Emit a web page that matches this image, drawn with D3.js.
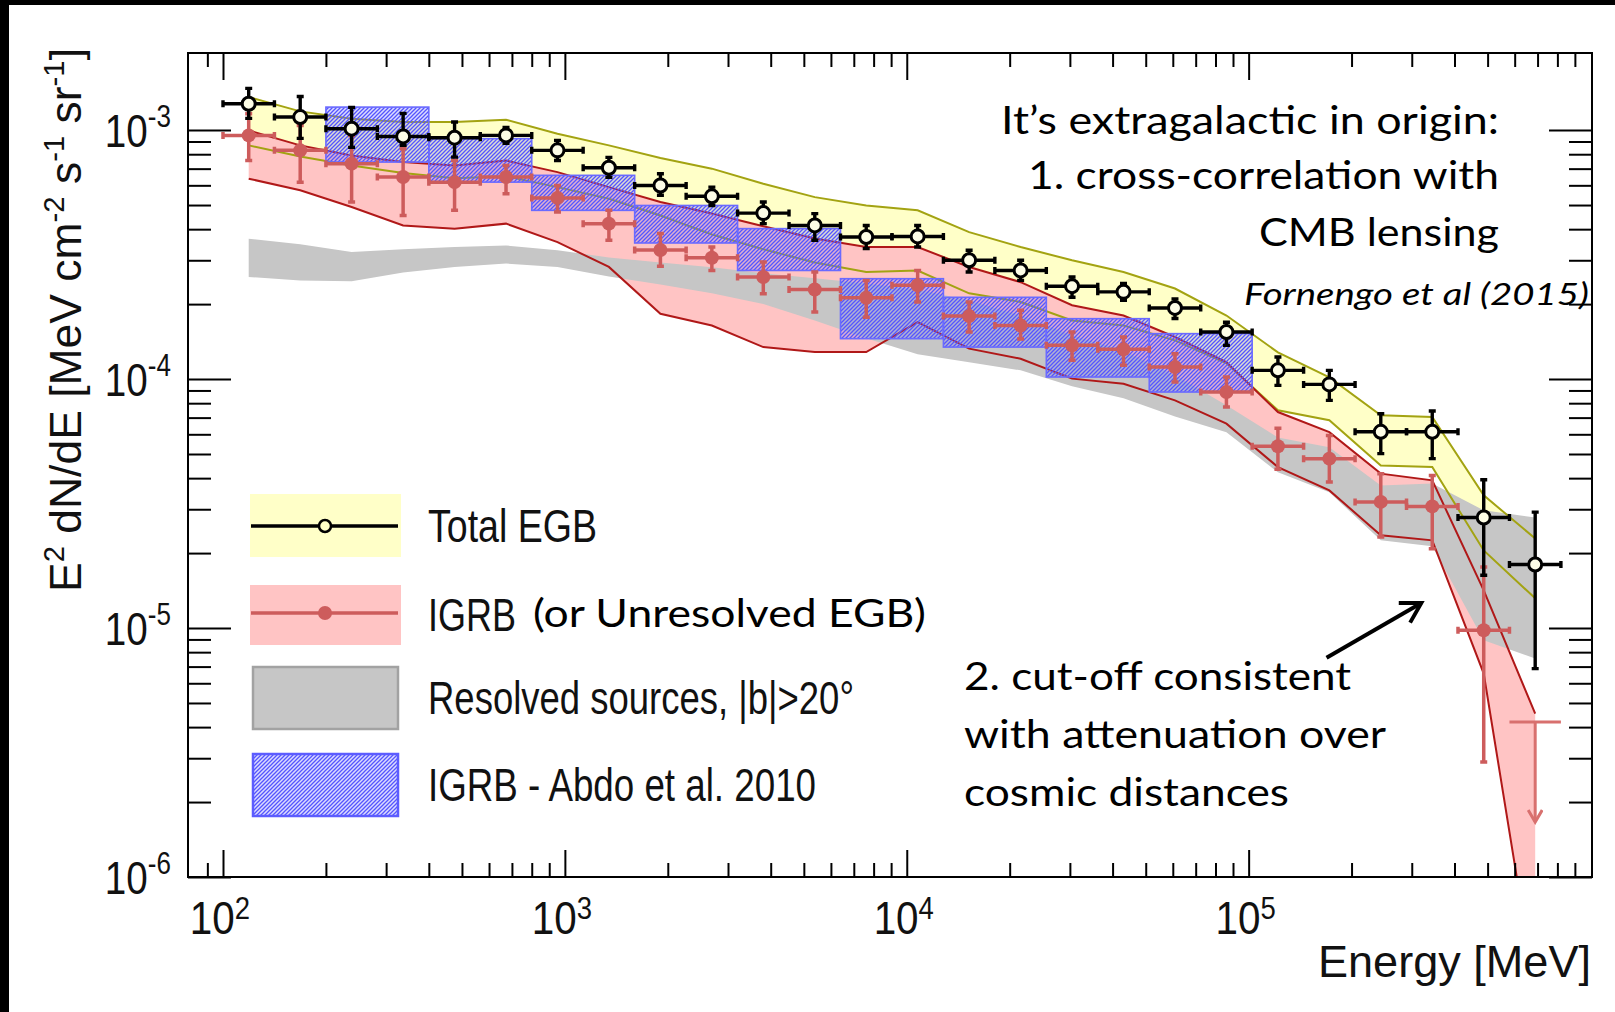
<!DOCTYPE html>
<html>
<head>
<meta charset="utf-8">
<script src="https://cdn.jsdelivr.net/npm/d3@7"></script>
<style>
  body { margin: 0; background: #000; }
  svg { display: block; }
</style>
</head>
<body>
<svg id="chart"></svg>
<script>

// Fermi-LAT energy bins (MeV)
var binCenters = [118.9, 168.2, 237.8, 336.4, 475.7, 672.7, 951.4, 1345, 1903, 2691, 3805, 5382, 7611, 10760, 15220, 21530, 30440, 43050, 60890, 86110, 121800, 172200, 243500, 344400, 487100, 688900];
var binLow = [100, 141.4, 200, 282.8, 400, 565.7, 800, 1131, 1600, 2263, 3200, 4525, 6400, 9051, 12800, 18100, 25600, 36200, 51200, 72410, 102400, 144800, 204800, 289600, 409600, 579300];
var binHigh = [141.4, 200, 282.8, 400, 565.7, 800, 1131, 1600, 2263, 3200, 4525, 6400, 9051, 12800, 18100, 25600, 36200, 51200, 72410, 102400, 144800, 204800, 289600, 409600, 579300, 819200];

// Total EGB points
var egbFlux = [1.276e-3, 1.128e-3, 1.013e-3, 9.43e-4, 9.32e-4, 9.52e-4, 8.29e-4, 7.06e-4, 5.99e-4, 5.42e-4, 4.64e-4, 4.14e-4, 3.72e-4, 3.74e-4, 3.00e-4, 2.73e-4, 2.36e-4, 2.24e-4, 1.93e-4, 1.545e-4, 1.084e-4, 9.52e-5, 6.14e-5, 6.14e-5, 2.78e-5, 1.80e-5];
var egbErrHigh = [1.471e-3, 1.365e-3, 1.234e-3, 1.167e-3, 1.077e-3, 1.025e-3, 9.09e-4, 7.77e-4, 6.68e-4, 5.90e-4, 5.14e-4, 4.62e-4, 4.14e-4, 4.14e-4, 3.29e-4, 3.00e-4, 2.57e-4, 2.42e-4, 2.10e-4, 1.69e-4, 1.226e-4, 1.084e-4, 7.26e-5, 7.44e-5, 3.94e-5, 2.92e-5];
var egbErrLow = [1.114e-3, 9.26e-4, 8.52e-4, 8.68e-4, 7.79e-4, 8.84e-4, 7.55e-4, 6.46e-4, 5.47e-4, 4.98e-4, 4.21e-4, 3.61e-4, 3.34e-4, 3.39e-4, 2.69e-4, 2.49e-4, 2.13e-4, 2.07e-4, 1.75e-4, 1.366e-4, 9.43e-5, 8.21e-5, 5.02e-5, 4.79e-5, 1.63e-5, 6.87e-6];
var egbBandHigh = [1.357e-3, 1.189e-3, 1.111e-3, 1.077e-3, 1.077e-3, 1.101e-3, 9.67e-4, 8.68e-4, 7.73e-4, 7.00e-4, 6.09e-4, 5.38e-4, 4.98e-4, 4.76e-4, 3.89e-4, 3.39e-4, 3.00e-4, 2.69e-4, 2.31e-4, 1.80e-4, 1.28e-4, 1.016e-4, 7.15e-5, 7.04e-5, 3.41e-5, 2.29e-5];
var egbBandLow = [8.68e-4, 7.84e-4, 7.21e-4, 6.72e-4, 6.41e-4, 6.52e-4, 5.90e-4, 5.30e-4, 4.54e-4, 3.81e-4, 3.32e-4, 2.94e-4, 2.69e-4, 2.73e-4, 2.21e-4, 2.04e-4, 1.72e-4, 1.64e-4, 1.43e-4, 1.156e-4, 7.49e-5, 6.83e-5, 4.50e-5, 4.43e-5, 2.05e-5, 1.316e-5];

// IGRB points (first 25 bins) + upper limit in the last bin
var igrbFlux = [9.52e-4, 8.29e-4, 7.33e-4, 6.48e-4, 6.18e-4, 6.48e-4, 5.34e-4, 4.21e-4, 3.30e-4, 3.07e-4, 2.57e-4, 2.29e-4, 2.12e-4, 2.38e-4, 1.79e-4, 1.64e-4, 1.366e-4, 1.316e-4, 1.117e-4, 8.87e-5, 5.37e-5, 4.79e-5, 3.21e-5, 3.08e-5, 9.79e-6];
var igrbErrHigh = [1.164e-3, 1.044e-3, 9.52e-4, 8.42e-4, 7.55e-4, 7.21e-4, 5.99e-4, 4.76e-4, 3.84e-4, 3.39e-4, 2.95e-4, 2.69e-4, 2.49e-4, 2.73e-4, 2.04e-4, 1.89e-4, 1.545e-4, 1.475e-4, 1.265e-4, 1.019e-4, 6.34e-5, 5.94e-5, 4.17e-5, 4.10e-5, 1.758e-5];
var igrbErrLow = [7.55e-4, 6.18e-4, 5.14e-4, 4.54e-4, 4.76e-4, 5.55e-4, 4.69e-4, 3.61e-4, 2.84e-4, 2.73e-4, 2.20e-4, 1.86e-4, 1.77e-4, 2.04e-4, 1.545e-4, 1.45e-4, 1.189e-4, 1.135e-4, 9.73e-5, 7.72e-5, 4.34e-5, 3.86e-5, 2.32e-5, 2.08e-5, 2.90e-6];
var igrbUpperLimit = 4.19e-6;
var igrbBandHigh = [9.97e-4, 8.68e-4, 7.91e-4, 7.44e-4, 7.21e-4, 7.55e-4, 6.78e-4, 5.90e-4, 5.14e-4, 4.62e-4, 4.11e-4, 3.67e-4, 3.39e-4, 3.39e-4, 2.82e-4, 2.45e-4, 1.98e-4, 1.80e-4, 1.475e-4, 1.17e-4, 7.37e-5, 6.12e-5, 4.17e-5, 3.92e-5, 1.417e-5, 4.53e-6];
var igrbBandLow = [6.38e-4, 5.73e-4, 4.91e-4, 4.14e-4, 4.02e-4, 4.21e-4, 3.55e-4, 2.82e-4, 1.83e-4, 1.64e-4, 1.344e-4, 1.284e-4, 1.284e-4, 1.694e-4, 1.325e-4, 1.207e-4, 1.004e-4, 9.58e-5, 8.21e-5, 6.62e-5, 4.43e-5, 3.57e-5, 2.36e-5, 2.25e-5, 6.56e-6, 3.5e-7];

// Resolved sources |b|>20 band
var resolvedHigh = [3.66e-4, 3.48e-4, 3.24e-4, 3.32e-4, 3.39e-4, 3.44e-4, 3.29e-4, 3.08e-4, 2.94e-4, 2.81e-4, 2.66e-4, 2.54e-4, 2.42e-4, 2.29e-4, 2.07e-4, 1.80e-4, 1.50e-4, 1.30e-4, 1.035e-4, 7.84e-5, 5.83e-5, 5.32e-5, 3.74e-5, 3.81e-5, 2.97e-5, 2.78e-5];
var resolvedLow = [2.57e-4, 2.49e-4, 2.47e-4, 2.68e-4, 2.82e-4, 2.91e-4, 2.82e-4, 2.58e-4, 2.40e-4, 2.21e-4, 2.00e-4, 1.72e-4, 1.46e-4, 1.257e-4, 1.167e-4, 1.084e-4, 9.35e-5, 8.37e-5, 7.08e-5, 6.11e-5, 4.22e-5, 3.51e-5, 2.25e-5, 2.13e-5, 8.93e-6, 7.55e-6];

// IGRB - Abdo et al. 2010 boxes
var abdoLow = [200, 400, 800, 1600, 3200, 6400, 12800, 25600, 51200];
var abdoHigh = [400, 800, 1600, 3200, 6400, 12800, 25600, 51200, 102400];
var abdoTop = [1.237e-3, 9.24e-4, 6.58e-4, 4.98e-4, 4.02e-4, 2.53e-4, 2.13e-4, 1.748e-4, 1.522e-4];
var abdoBottom = [7.44e-4, 6.18e-4, 4.76e-4, 3.52e-4, 2.73e-4, 1.453e-4, 1.344e-4, 1.019e-4, 8.87e-5];

var xMajor = [1e2, 1e3, 1e4, 1e5];
var yMajor = [1e-6, 1e-5, 1e-4, 1e-3];

// cut-off arrow, [energy, flux] of tail and head
var arrowTail = [1.69e5, 7.6e-6];
var arrowHead = [3.2e5, 1.26e-5];

var W = 1615, H = 1012;
var pLeft = 188, pRight = 1592, pTop = 53, pBottom = 877;

var svg = d3.select("#chart").attr("width", W).attr("height", H);

// black border of the slide
svg.append("rect").attr("width", W).attr("height", H).attr("fill", "#000");
svg.append("rect").attr("x", 9).attr("y", 5).attr("width", W - 9).attr("height", H - 5).attr("fill", "#fff");

var x = d3.scaleLog().domain([79, 1.01e6]).range([pLeft, pRight]);
var y = d3.scaleLog().domain([1e-6, 2.04e-3]).range([pBottom, pTop]);

var defs = svg.append("defs");
defs.append("clipPath").attr("id", "plotclip")
    .append("rect").attr("x", pLeft).attr("y", pTop)
    .attr("width", pRight - pLeft).attr("height", pBottom - pTop);

var hatch = defs.append("pattern").attr("id", "hatch")
    .attr("patternUnits", "userSpaceOnUse").attr("width", 4).attr("height", 4);
hatch.append("rect").attr("width", 4).attr("height", 4).attr("fill", "rgba(110,110,255,0.24)");
hatch.append("path").attr("d", "M-1,1 l2,-2 M0,4 l4,-4 M3,5 l2,-2")
    .attr("stroke", "#5555ff").attr("stroke-width", 1.3);

defs.append("marker").attr("id", "headBlack")
    .attr("viewBox", "0 0 16 16").attr("markerUnits", "userSpaceOnUse")
    .attr("markerWidth", 26).attr("markerHeight", 26)
    .attr("refX", 13).attr("refY", 8).attr("orient", "auto")
    .append("path").attr("d", "M1,1 L13,8 L1,15")
    .attr("fill", "none").attr("stroke", "#000").attr("stroke-width", 2.4);

defs.append("marker").attr("id", "headRed")
    .attr("viewBox", "0 0 16 16").attr("markerUnits", "userSpaceOnUse")
    .attr("markerWidth", 16).attr("markerHeight", 16)
    .attr("refX", 13).attr("refY", 8).attr("orient", "auto")
    .append("path").attr("d", "M1,1 L13,8 L1,15")
    .attr("fill", "none").attr("stroke", "#d8706e").attr("stroke-width", 3);

var plot = svg.append("g").attr("clip-path", "url(#plotclip)");
var idx = d3.range(binCenters.length);

function band(lo, hi) {
    return d3.area()
        .x(function(i) { return x(binCenters[i]); })
        .y0(function(i) { return y(lo[i]); })
        .y1(function(i) { return y(hi[i]); })(idx);
}
function edge(vals) {
    return d3.line()
        .x(function(i) { return x(binCenters[i]); })
        .y(function(i) { return y(vals[i]); })(idx);
}

plot.append("path").attr("d", band(egbBandLow, egbBandHigh)).attr("fill", "#ffffc8");
plot.append("path").attr("d", band(igrbBandLow, igrbBandHigh)).attr("fill", "#ffc4c4");
plot.append("path").attr("d", band(resolvedLow, resolvedHigh)).attr("fill", "#c6c6c6");

[egbBandHigh, egbBandLow].forEach(function(v) {
    plot.append("path").attr("d", edge(v)).attr("fill", "none")
        .attr("stroke", "#a3a312").attr("stroke-width", 2);
});
[igrbBandHigh, igrbBandLow].forEach(function(v) {
    plot.append("path").attr("d", edge(v)).attr("fill", "none")
        .attr("stroke", "#b01818").attr("stroke-width", 2);
});

// Abdo et al. boxes
plot.selectAll("rect.abdo")
    .data(d3.range(abdoLow.length))
    .enter()
    .append("rect")
    .attr("class", "abdo")
    .attr("x", function(i) { return x(abdoLow[i]); })
    .attr("width", function(i) { return x(abdoHigh[i]) - x(abdoLow[i]); })
    .attr("y", function(i) { return y(abdoTop[i]); })
    .attr("height", function(i) { return y(abdoBottom[i]) - y(abdoTop[i]); })
    .attr("fill", "url(#hatch)")
    .attr("stroke", "#6a6aff")
    .attr("stroke-width", 1.6);

function errorBars(g, n, val, hi, lo, color, width, cap) {
    var i = d3.range(n);
    g.selectAll(null).data(i).enter().append("line")
        .attr("x1", function(k) { return x(binLow[k]); })
        .attr("x2", function(k) { return x(binHigh[k]); })
        .attr("y1", function(k) { return y(val[k]); })
        .attr("y2", function(k) { return y(val[k]); })
        .attr("stroke", color).attr("stroke-width", width);
    g.selectAll(null).data(i).enter().append("line")
        .attr("x1", function(k) { return x(binCenters[k]); })
        .attr("x2", function(k) { return x(binCenters[k]); })
        .attr("y1", function(k) { return y(hi[k]); })
        .attr("y2", function(k) { return y(lo[k]); })
        .attr("stroke", color).attr("stroke-width", width);
    // caps
    g.selectAll(null).data(i).enter().append("path")
        .attr("d", function(k) {
            var cx = x(binCenters[k]), yh = y(hi[k]), yl = y(lo[k]), yv = y(val[k]);
            var xa = x(binLow[k]), xb = x(binHigh[k]);
            return "M" + (cx - cap) + "," + yh + "H" + (cx + cap) +
                   "M" + (cx - cap) + "," + yl + "H" + (cx + cap) +
                   "M" + xa + "," + (yv - cap) + "V" + (yv + cap) +
                   "M" + xb + "," + (yv - cap) + "V" + (yv + cap);
        })
        .attr("stroke", color).attr("stroke-width", width).attr("fill", "none");
}

// IGRB points
var red = "#cd5c5c";
var igrbG = plot.append("g");
errorBars(igrbG, igrbFlux.length, igrbFlux, igrbErrHigh, igrbErrLow, red, 3.5, 3.5);
igrbG.selectAll("circle").data(igrbFlux).enter().append("circle")
    .attr("cx", function(d, k) { return x(binCenters[k]); })
    .attr("cy", function(d) { return y(d); })
    .attr("r", 7)
    .attr("fill", red);

// upper limit in the last bin
var last = binCenters.length - 1;
igrbG.append("line")
    .attr("x1", x(binLow[last])).attr("x2", x(binHigh[last]))
    .attr("y1", y(igrbUpperLimit)).attr("y2", y(igrbUpperLimit))
    .attr("stroke", "#d8706e").attr("stroke-width", 3);
igrbG.append("line")
    .attr("x1", x(binCenters[last])).attr("x2", x(binCenters[last]))
    .attr("y1", y(igrbUpperLimit)).attr("y2", y(igrbUpperLimit) + 100)
    .attr("stroke", "#d8706e").attr("stroke-width", 3)
    .attr("marker-end", "url(#headRed)");

// Total EGB points
var egbG = plot.append("g");
errorBars(egbG, egbFlux.length, egbFlux, egbErrHigh, egbErrLow, "#000", 3.4, 3.5);
egbG.selectAll("circle").data(egbFlux).enter().append("circle")
    .attr("cx", function(d, k) { return x(binCenters[k]); })
    .attr("cy", function(d) { return y(d); })
    .attr("r", 6.5)
    .attr("fill", "#fdfde6")
    .attr("stroke", "#000")
    .attr("stroke-width", 3);

// ticks on all four sides, pointing inwards
function minorTicks(lo, hi) {
    var out = [];
    for (var e = lo; e <= hi; e++) {
        for (var m = 2; m <= 9; m++) out.push(m * Math.pow(10, e));
    }
    return out;
}
var xMinor = [90].concat(minorTicks(2, 5));
var yMinor = minorTicks(-6, -4);

function ticks(axis, values, size, transform) {
    var g = svg.append("g").attr("transform", transform)
        .call(axis.tickValues(values).tickSize(size).tickSizeOuter(0).tickFormat(""));
    g.select(".domain").remove();
    g.selectAll("line").attr("stroke", "#000").attr("stroke-width", 2);
}
ticks(d3.axisBottom(x), xMajor, -27, "translate(0," + pBottom + ")");
ticks(d3.axisBottom(x), xMinor, -14, "translate(0," + pBottom + ")");
ticks(d3.axisTop(x), xMajor, -27, "translate(0," + pTop + ")");
ticks(d3.axisTop(x), xMinor, -14, "translate(0," + pTop + ")");
ticks(d3.axisLeft(y), yMajor, -43, "translate(" + pLeft + ",0)");
ticks(d3.axisLeft(y), yMinor, -23, "translate(" + pLeft + ",0)");
ticks(d3.axisRight(y), yMajor, -43, "translate(" + pRight + ",0)");
ticks(d3.axisRight(y), yMinor, -23, "translate(" + pRight + ",0)");

svg.append("rect")
    .attr("x", pLeft).attr("y", pTop)
    .attr("width", pRight - pLeft).attr("height", pBottom - pTop)
    .attr("fill", "none").attr("stroke", "#000").attr("stroke-width", 2);

// tick labels
var axisFont = "'Liberation Sans', Arial, Helvetica, sans-serif";
svg.selectAll("text.ylab").data(yMajor).enter().append("text")
    .attr("class", "ylab")
    .attr("transform", function(d) { return "translate(171," + (y(d) + 16.5) + ") scale(0.84,1)"; })
    .attr("text-anchor", "end")
    .attr("font-family", axisFont).attr("font-size", 46).attr("fill", "#111")
    .each(function(d) {
        var t = d3.select(this);
        t.append("tspan").text("10");
        t.append("tspan").attr("dy", -20).attr("font-size", 31).text(Math.round(Math.log10(d)));
    });

svg.selectAll("text.xlab").data(xMajor).enter().append("text")
    .attr("class", "xlab")
    .attr("transform", function(d) { return "translate(" + (x(d) - 3) + ",934) scale(0.86,1)"; })
    .attr("text-anchor", "middle")
    .attr("font-family", axisFont).attr("font-size", 47).attr("fill", "#111")
    .each(function(d) {
        var t = d3.select(this);
        t.append("tspan").text("10");
        t.append("tspan").attr("dy", -15).attr("font-size", 32).text(Math.round(Math.log10(d)));
    });

svg.append("text")
    .attr("x", 1318).attr("y", 977)
    .attr("font-family", axisFont).attr("font-size", 44).attr("fill", "#111")
    .attr("textLength", 273).attr("lengthAdjust", "spacingAndGlyphs")
    .text("Energy [MeV]");

// y axis title
var ytitle = svg.append("text")
    .attr("transform", "translate(81,592) rotate(-90)")
    .attr("font-family", axisFont).attr("font-size", 44).attr("fill", "#111")
    .attr("textLength", 544).attr("lengthAdjust", "spacingAndGlyphs");
ytitle.append("tspan").text("E");
ytitle.append("tspan").attr("dy", -17).attr("font-size", 29).text("2");
ytitle.append("tspan").attr("dy", 17).text(" dN/dE [MeV cm");
ytitle.append("tspan").attr("dy", -17).attr("font-size", 29).text("-2");
ytitle.append("tspan").attr("dy", 17).text(" s");
ytitle.append("tspan").attr("dy", -17).attr("font-size", 29).text("-1");
ytitle.append("tspan").attr("dy", 17).text(" sr");
ytitle.append("tspan").attr("dy", -17).attr("font-size", 29).text("-1");
ytitle.append("tspan").attr("dy", 17).text("]");

// legend
var legend = svg.append("g");
legend.append("rect").attr("x", 250).attr("y", 494).attr("width", 151).attr("height", 63).attr("fill", "#ffffc8");
legend.append("line").attr("x1", 251).attr("x2", 398).attr("y1", 526).attr("y2", 526).attr("stroke", "#000").attr("stroke-width", 3.5);
legend.append("circle").attr("cx", 325).attr("cy", 526).attr("r", 6).attr("fill", "#ffffc8").attr("stroke", "#000").attr("stroke-width", 2.5);

legend.append("rect").attr("x", 250).attr("y", 585).attr("width", 151).attr("height", 60).attr("fill", "#ffc4c4");
legend.append("line").attr("x1", 251).attr("x2", 398).attr("y1", 613).attr("y2", 613).attr("stroke", red).attr("stroke-width", 3.5);
legend.append("circle").attr("cx", 325).attr("cy", 613).attr("r", 7).attr("fill", red);

legend.append("rect").attr("x", 253).attr("y", 667).attr("width", 145).attr("height", 62).attr("fill", "#c6c6c6").attr("stroke", "#a2a2a2").attr("stroke-width", 2.5);
legend.append("rect").attr("x", 253).attr("y", 754).attr("width", 145).attr("height", 62).attr("fill", "url(#hatch)").attr("stroke", "#5c5cff").attr("stroke-width", 2.5);

var legendText = [
    { t: "Total EGB", y: 542, w: 169 },
    { t: "IGRB", y: 631, w: 88 },
    { t: "Resolved sources, |b|>20\u00b0", y: 714, w: 426 },
    { t: "IGRB - Abdo et al. 2010", y: 801, w: 388 }
];
legend.selectAll("text").data(legendText).enter().append("text")
    .attr("x", 428).attr("y", function(d) { return d.y; })
    .attr("font-family", axisFont).attr("font-size", 46).attr("fill", "#111")
    .attr("textLength", function(d) { return d.w; })
    .attr("lengthAdjust", "spacingAndGlyphs")
    .text(function(d) { return d.t; });

// annotations (Calibri-like)
var noteFont = "Lato, 'Open Sans', sans-serif";
var notes = [
    { t: "It\u2019s extragalactic in origin:", x: 1001, y: 134, w: 498 },
    { t: "1. cross-correlation with", x: 1028, y: 189, w: 471 },
    { t: "CMB lensing", x: 1259, y: 246, w: 240 },
    { t: "(or Unresolved EGB)", x: 533, y: 627, w: 393 },
    { t: "2. cut-off consistent", x: 964, y: 690, w: 387 },
    { t: "with attenuation over", x: 964, y: 748, w: 422 },
    { t: "cosmic distances", x: 964, y: 806, w: 325 }
];
svg.selectAll("text.note").data(notes).enter().append("text")
    .attr("class", "note")
    .attr("x", function(d) { return d.x; })
    .attr("y", function(d) { return d.y; })
    .attr("font-family", noteFont).attr("font-size", 38).attr("fill", "#000")
    .attr("textLength", function(d) { return d.w; })
    .attr("lengthAdjust", "spacingAndGlyphs")
    .text(function(d) { return d.t; });

svg.append("text")
    .attr("x", 1244).attr("y", 305)
    .attr("font-family", noteFont).attr("font-style", "italic").attr("font-size", 31).attr("fill", "#000")
    .attr("textLength", 345).attr("lengthAdjust", "spacingAndGlyphs")
    .text("Fornengo et al (2015)");

svg.append("line")
    .attr("x1", x(arrowTail[0])).attr("y1", y(arrowTail[1]))
    .attr("x2", x(arrowHead[0])).attr("y2", y(arrowHead[1]))
    .attr("stroke", "#000").attr("stroke-width", 4)
    .attr("marker-end", "url(#headBlack)");

</script>
</body>
</html>
